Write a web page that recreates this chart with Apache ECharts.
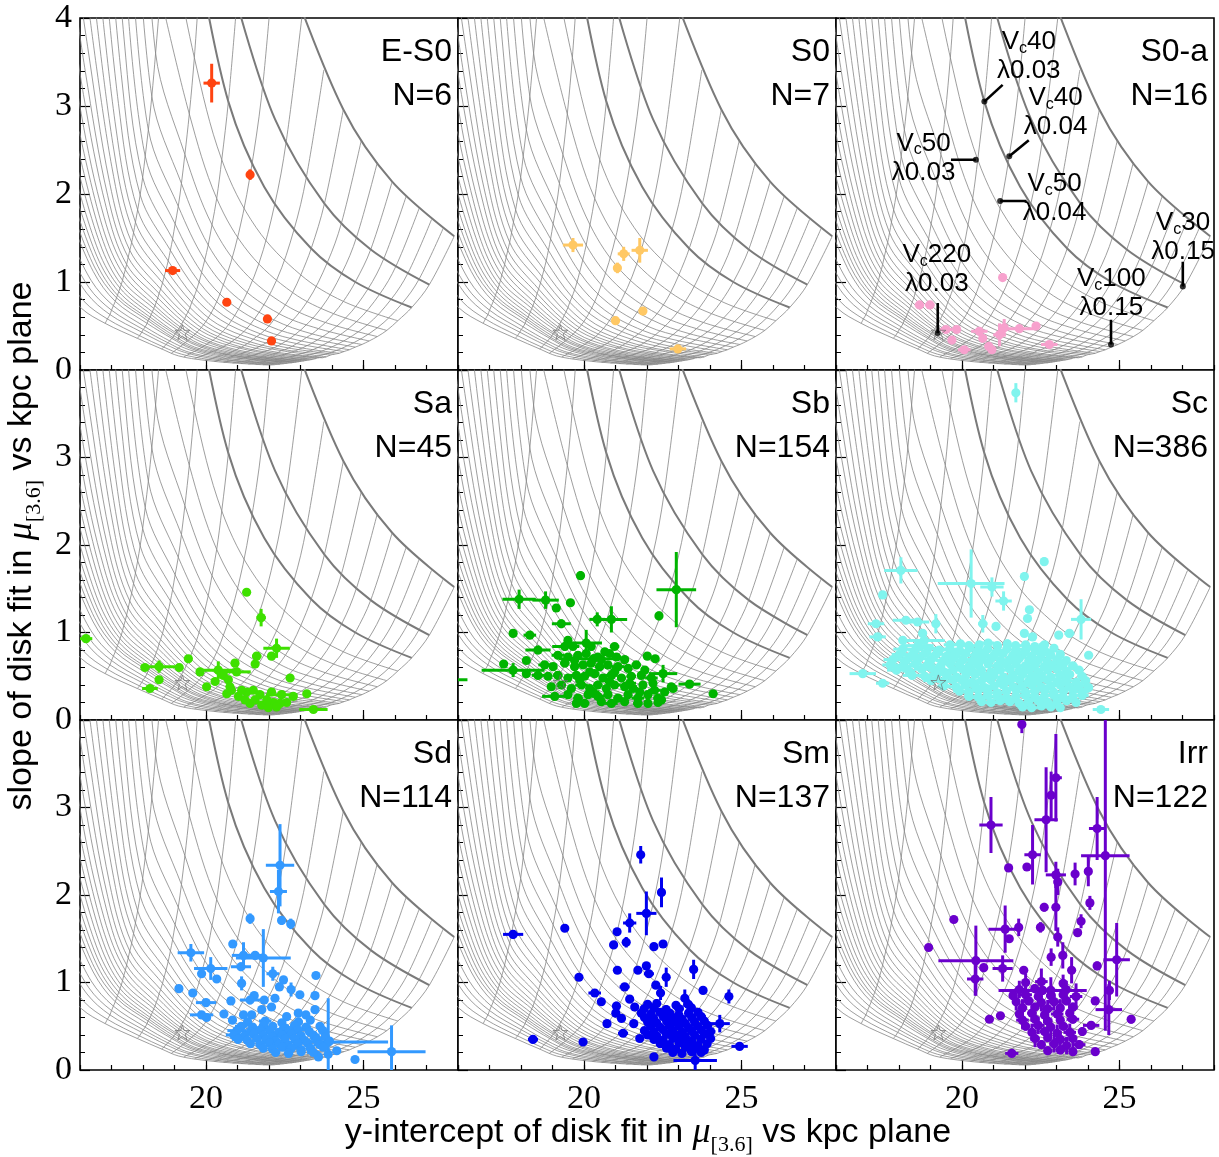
<!DOCTYPE html>
<html><head><meta charset="utf-8">
<script src="https://cdn.jsdelivr.net/npm/echarts@6/dist/echarts.min.js"></script>
<style>html,body{margin:0;padding:0;background:#fff}#c{width:1219px;height:1157px}</style>
</head><body><div id="c"></div>
<script>
// ---------- model grid ----------
// rows: circular velocity Vc ; columns: spin lambda nodes
const VC_LIST = [20,30,40,50,60,70,80,90,100,110,120,130,140,150,160,170,180,190,200,210,220,230,240,250,260,270,280,300,320,340,370,400];
const LAMBDA_NODES = [0.00125,0.0025,0.005,0.01,0.02,0.03,0.045,0.07,0.10,0.15];
const VC_NODES = [
 [null,null,null,null,null,null,[22.67,4.45],[24.36,2.96],[25.91,2.14],[27.88,1.52]],
 [null,null,null,null,null,[20.98,4.18],[22.19,2.85],[23.76,1.89],[25.23,1.37],[27.09,0.97]],
 [null,null,null,null,[19.82,4.54],[20.71,3.05],[21.85,2.08],[23.34,1.38],[24.74,1.00],[26.53,0.71]],
 [null,null,null,[18.71,5.22],[19.63,3.55],[20.50,2.39],[21.59,1.62],[23.01,1.08],[24.36,0.78],[26.09,0.56]],
 [null,null,null,[18.55,4.27],[19.47,2.91],[20.34,1.95],[21.37,1.33],[22.75,0.88],[24.05,0.64],[25.74,0.45]],
 [null,null,[17.87,6.76],[18.40,3.60],[19.33,2.45],[20.19,1.65],[21.19,1.12],[22.52,0.74],[23.79,0.54],[25.44,0.38]],
 [null,null,[17.73,5.69],[18.28,3.11],[19.22,2.12],[20.07,1.42],[21.03,0.97],[22.32,0.64],[23.57,0.47],[25.18,0.33]],
 [null,null,[17.60,4.88],[18.17,2.73],[19.12,1.86],[19.96,1.25],[20.89,0.85],[22.15,0.57],[23.37,0.41],[24.95,0.29]],
 [null,null,[17.49,4.26],[18.07,2.43],[19.02,1.66],[19.86,1.11],[20.77,0.76],[22.00,0.50],[23.19,0.37],[24.74,0.26]],
 [null,[16.77,6.92],[17.40,3.76],[17.99,2.19],[18.94,1.49],[19.78,1.00],[20.66,0.68],[21.86,0.45],[23.03,0.33],[24.55,0.23]],
 [null,[16.66,6.10],[17.31,3.36],[17.91,1.99],[18.87,1.36],[19.70,0.91],[20.55,0.62],[21.73,0.41],[22.88,0.30],[24.38,0.21]],
 [null,[16.57,5.43],[17.22,3.03],[17.83,1.82],[18.80,1.24],[19.62,0.83],[20.46,0.57],[21.61,0.38],[22.74,0.27],[24.23,0.19]],
 [null,[16.48,4.88],[17.14,2.75],[17.76,1.68],[18.73,1.14],[19.55,0.77],[20.37,0.52],[21.50,0.35],[22.62,0.25],[24.08,0.18]],
 [null,[16.39,4.42],[17.07,2.51],[17.70,1.56],[18.67,1.06],[19.49,0.71],[20.29,0.48],[21.40,0.32],[22.50,0.23],[23.95,0.17]],
 [null,[16.31,4.02],[17.01,2.31],[17.64,1.45],[18.62,0.99],[19.43,0.66],[20.21,0.45],[21.31,0.30],[22.39,0.22],[23.82,0.15]],
 [[15.64,5.20],[16.24,3.68],[16.94,2.13],[17.58,1.36],[18.56,0.92],[19.37,0.62],[20.14,0.42],[21.22,0.28],[22.29,0.20],[23.70,0.14]],
 [[15.57,4.90],[16.17,3.39],[16.88,1.98],[17.53,1.28],[18.51,0.87],[19.32,0.58],[20.07,0.40],[21.13,0.26],[22.19,0.19],[23.59,0.14]],
 [[15.51,4.60],[16.11,3.13],[16.83,1.85],[17.48,1.20],[18.47,0.82],[19.27,0.55],[20.01,0.37],[21.05,0.25],[22.10,0.18],[23.49,0.13]],
 [[15.44,4.40],[16.04,2.91],[16.77,1.73],[17.44,1.14],[18.42,0.77],[19.22,0.52],[19.95,0.35],[20.98,0.23],[22.01,0.17],[23.38,0.12]],
 [null,[15.98,2.71],[16.72,1.62],[17.39,1.08],[18.38,0.73],[19.18,0.49],[19.89,0.34],[20.91,0.22],[21.93,0.16],[23.29,0.115]],
 [null,[15.93,2.53],[16.67,1.53],[17.35,1.02],[18.34,0.70],[19.14,0.47],[19.84,0.32],[20.84,0.21],[21.85,0.15],[23.20,0.11]],
 [null,[15.87,2.37],[16.63,1.44],[17.31,0.97],[18.30,0.66],[19.10,0.45],[19.78,0.30],[20.77,0.20],[21.78,0.146],[23.11,0.104]],
 [null,[15.82,2.23],[16.58,1.36],[17.27,0.93],[18.26,0.63],[19.06,0.42],[19.73,0.29],[20.71,0.19],[21.71,0.14],[23.03,0.10]],
 [null,[15.77,2.10],[16.54,1.29],[17.23,0.89],[18.23,0.60],[19.02,0.41],[19.69,0.28],[20.65,0.18],[21.64,0.133],[22.95,0.095]],
 [null,[15.72,1.99],[16.50,1.23],[17.19,0.85],[18.19,0.58],[18.98,0.39],[19.64,0.26],[20.59,0.18],[21.57,0.13],[22.87,0.09]],
 [null,[15.68,1.88],[16.46,1.17],[17.16,0.82],[18.16,0.56],[18.95,0.37],[19.59,0.25],[20.54,0.17],[21.51,0.122],[22.80,0.087]],
 [null,[15.63,1.79],[16.42,1.12],[17.12,0.78],[18.13,0.53],[18.91,0.36],[19.55,0.24],[20.48,0.16],[21.44,0.12],[22.73,0.083]],
 [null,[15.55,1.61],[16.35,1.02],[17.06,0.73],[18.07,0.49],[18.85,0.33],[19.47,0.23],[20.38,0.15],[21.33,0.11],[22.59,0.077]],
 [null,[15.47,1.47],[16.28,0.94],[17.00,0.68],[18.01,0.46],[18.79,0.31],[19.39,0.21],[20.29,0.14],[21.22,0.10],[22.47,0.072]],
 [null,[15.40,1.35],[16.22,0.87],[16.95,0.63],[17.96,0.43],[18.73,0.29],[19.32,0.20],[20.20,0.13],[21.12,0.095],[22.35,0.067]],
 [null,[15.30,1.19],[16.13,0.78],[16.87,0.58],[17.89,0.39],[18.66,0.26],[19.22,0.18],[20.08,0.12],[20.97,0.087],[22.18,0.061]],
 [null,[15.20,1.06],[16.05,0.70],[16.80,0.53],[17.82,0.36],[18.59,0.24],[19.13,0.16],[19.96,0.11],[20.84,0.08],[22.03,0.056]]
];
const LAMBDA_LINE_COLS = [3,4,5,7,8,9];   // lambda = 0.01,0.02,0.03,0.07,0.10,0.15
const LAMBDA_EXTRA = [
 [[22.28,5.21],[21.83,3.33],[21.50,2.43],[21.04,1.56],[20.47,0.89],[19.87,0.49],[18.90,0.19]],
 [[23.05,4.03],[22.54,2.58],[22.18,1.88],[21.67,1.20],[21.03,0.69],[20.37,0.38],[19.30,0.15]],
 [[23.74,3.41],[23.18,2.18],[22.79,1.59],[22.24,1.02],[21.54,0.58],[20.81,0.32],[19.64,0.13]],
 [[24.93,2.61],[24.30,1.67],[23.85,1.22],[23.22,0.78],[22.43,0.45],[21.60,0.25],[20.27,0.097]],
 [[25.44,2.36],[24.78,1.51],[24.31,1.10],[23.65,0.70],[22.82,0.40],[21.95,0.22],[20.56,0.087]],
 [[26.36,1.98],[25.65,1.27],[25.14,0.92],[24.43,0.59],[23.53,0.34],[22.60,0.19],[21.10,0.073]],
 [[26.77,1.84],[26.03,1.18],[25.51,0.86],[24.78,0.55],[23.85,0.31],[22.89,0.17],[21.34,0.068]],
 [[27.16,1.71],[26.41,1.10],[25.87,0.80],[25.11,0.51],[24.16,0.29],[23.17,0.16],[21.58,0.064]],
 [[27.53,1.61],[26.76,1.03],[26.21,0.75],[25.44,0.48],[24.46,0.27],[23.45,0.15],[21.81,0.060]]
];
const THICK_VC = [20,30,40];
const STAR_POS = [19.25,0.43];

// ---------- annotations (S0-a panel) ----------
const ANNOT_VC  = ['40','40','50','50','30','100','220'];
const ANNOT_LAM = ['0.03','0.04','0.03','0.04','0.15','0.15','0.03'];
const ANNOT_DOT = [[20.71,3.05],[21.50,2.43],[20.44,2.39],[21.21,1.92],[27.01,0.95],[24.73,0.29],[19.23,0.42]];
const ANNOT_END = [[21.29,3.24],[22.12,2.61],[19.65,2.39],[22.05,1.92],[27.01,1.23],[24.73,0.57],[19.23,0.76]];
const ANNOT_TXT = [[22.12,3.56],[22.97,2.93],[18.78,2.41],[22.94,1.95],[27.02,1.51],[24.74,0.87],[19.20,1.14]];

// ---------- panels ----------
const PANEL_NAMES = ['E-S0','S0','S0-a','Sa','Sb','Sc','Sd','Sm','Irr'];
const PANEL_N = [6,7,16,45,154,386,114,137,122];
const PANEL_COLORS = ['#ff4411','#ffc864','#f7a1cd','#3ee000','#00b400','#80f4ee','#3399ff','#0000ee','#6a00cc'];

// each point: [y-intercept, slope, x error, y error]
const DATA_ES0 = [[20.18,3.26,0.26,0.22],[21.40,2.22,0.05,0.06],[18.94,1.13,0.24,0.03],[20.66,0.77,0.03,0.03],[21.95,0.58,0.03,0.03],[22.08,0.33,0.03,0.03]];
const DATA_S0 = [[19.65,1.42,0.32,0.08],[21.26,1.32,0.19,0.08],[21.77,1.36,0.26,0.14],[21.06,1.16,0.12,0.06],[21.00,0.56,0.03,0.03],[21.87,0.67,0.03,0.03],[22.98,0.24,0.26,0.03]];
const DATA_S0A = [[21.29,1.05,0.03,0.03],[18.65,0.74,0.15,0.03],[18.98,0.74,0.15,0.03],[19.49,0.46,0.2,0.03],[19.83,0.46,0.1,0.03],[19.68,0.34,0.05,0.03],[20.07,0.23,0.2,0.03],[20.55,0.44,0.26,0.03],[20.66,0.36,0.05,0.03],[20.85,0.27,0.05,0.05],[21.19,0.40,0.2,0.13],[21.34,0.48,0.05,0.1],[21.82,0.47,0.55,0.03],[22.35,0.50,0.05,0.03],[22.77,0.29,0.26,0.03],[20.95,0.23,0.1,0.03]];
const DATA_SA = [[21.29,1.46,0.03,0.03],[21.75,1.17,0.15,0.1],[22.24,0.82,0.42,0.11],[22.08,0.73,0.05,0.03],[21.61,0.73,0.15,0.03],[21.56,0.64,0.05,0.03],[20.92,0.65,0.05,0.03],[22.67,0.48,0.05,0.03],[23.20,0.30,0.05,0.03],[23.41,0.12,0.45,0.03],[16.19,0.93,0.2,0.03],[19.44,0.70,0.05,0.03],[18.51,0.61,0.58,0.07],[18.06,0.60,0.05,0.03],[19.15,0.60,0.05,0.03],[18.51,0.46,0.05,0.03],[18.22,0.36,0.25,0.03],[20.02,0.38,0.05,0.03],[19.81,0.55,0.05,0.03],[20.39,0.57,0.5,0.1],[20.55,0.51,0.05,0.03],[20.71,0.46,0.05,0.03],[20.97,0.55,0.45,0.03],[20.66,0.30,0.05,0.03],[21.03,0.27,0.05,0.03],[21.29,0.32,0.1,0.03],[21.50,0.34,0.05,0.03],[21.71,0.29,0.1,0.03],[21.40,0.19,0.05,0.03],[21.77,0.17,0.1,0.03],[22.08,0.32,0.05,0.03],[22.14,0.20,0.05,0.03],[22.40,0.29,0.5,0.03],[22.56,0.20,0.1,0.03],[21.93,0.23,0.05,0.03],[22.35,0.19,0.05,0.03],[21.24,0.23,0.05,0.03],[20.81,0.34,0.05,0.03],[20.29,0.44,0.05,0.03],[21.56,0.23,0.05,0.03],[22.77,0.27,0.05,0.03],[22.24,0.15,0.05,0.03],[20.76,0.38,0.05,0.03],[21.98,0.14,0.05,0.03],[21.13,0.34,0.05,0.03]];
const DATA_SB = [[22.93,1.49,0.63,0.43],[19.89,1.65,0.03,0.05],[22.38,1.19,0.03,0.05],[17.94,1.38,0.53,0.11],[18.78,1.37,0.42,0.1],[19.12,1.28,0.05,0.03],[19.57,1.34,0.03,0.03],[19.28,1.10,0.3,0.05],[20.42,1.15,0.25,0.08],[20.87,1.15,0.5,0.15],[17.75,0.99,0.03,0.03],[18.28,0.97,0.2,0.03],[18.54,0.80,0.4,0.05],[20.07,0.88,0.5,0.15],[19.39,0.84,0.4,0.05],[17.75,0.57,1.0,0.08],[17.45,0.64,0.05,0.03],[18.17,0.68,0.05,0.03],[22.51,0.53,0.45,0.1],[23.35,0.41,0.35,0.03],[24.10,0.30,0.05,0.03],[22.01,0.73,0.05,0.03],[22.26,0.70,0.05,0.03],[22.77,0.38,0.05,0.03],[15.85,0.46,0.45,0.03],[20.30,0.70,1.1,0.05],[19.07,0.27,0.4,0.03],
 [19.49,0.91,0.1,0.03],[19.65,0.84,0.2,0.03],[20.23,0.84,0.1,0.05],[20.97,0.84,0.15,0.03],[20.66,0.78,0.1,0.03],[19.17,0.74,0.2,0.03],[19.49,0.72,0.1,0.03],[19.81,0.74,0.15,0.04],[20.07,0.76,0.1,0.03],[20.44,0.72,0.2,0.03],[20.81,0.76,0.1,0.03],[21.03,0.72,0.15,0.03],[21.29,0.69,0.1,0.03],[19.70,0.68,0.1,0.03],
 [18.75,0.63,0.2,0.03],[19.02,0.61,0.1,0.03],[19.39,0.65,0.15,0.03],[19.70,0.61,0.1,0.04],[19.97,0.63,0.2,0.03],[20.23,0.65,0.1,0.03],[20.50,0.61,0.15,0.03],[20.76,0.63,0.1,0.03],[21.08,0.61,0.2,0.04],[21.40,0.59,0.1,0.03],[21.66,0.63,0.15,0.03],[21.93,0.57,0.1,0.03],
 [18.54,0.51,0.2,0.03],[18.86,0.50,0.1,0.03],[19.17,0.51,0.15,0.04],[19.49,0.48,0.1,0.03],[19.76,0.51,0.2,0.03],[20.02,0.50,0.1,0.03],[20.34,0.53,0.15,0.03],[20.60,0.48,0.1,0.04],[20.87,0.51,0.2,0.03],[21.19,0.48,0.1,0.03],[21.50,0.50,0.15,0.03],[21.82,0.51,0.1,0.03],[22.14,0.48,0.2,0.03],[18.17,0.53,0.1,0.03],
 [18.96,0.38,0.1,0.03],[19.28,0.40,0.15,0.03],[19.60,0.36,0.1,0.04],[19.92,0.40,0.2,0.03],[20.18,0.36,0.1,0.03],[20.44,0.40,0.15,0.03],[20.71,0.36,0.1,0.03],[20.97,0.40,0.2,0.04],[21.29,0.38,0.1,0.03],[21.56,0.36,0.15,0.03],[21.87,0.40,0.1,0.03],[22.24,0.34,0.2,0.03],[22.56,0.32,0.1,0.03],[22.83,0.36,0.1,0.03],
 [19.49,0.29,0.1,0.03],[19.81,0.25,0.15,0.03],[20.13,0.29,0.1,0.03],[20.44,0.27,0.2,0.04],[20.76,0.29,0.1,0.03],[21.08,0.25,0.15,0.03],[21.40,0.29,0.1,0.03],[21.71,0.25,0.2,0.03],[22.03,0.29,0.1,0.04],[22.35,0.25,0.15,0.03],
 [19.76,0.19,0.1,0.03],[20.02,0.19,0.15,0.03],[20.55,0.21,0.1,0.03],[20.87,0.19,0.2,0.03],[21.29,0.21,0.1,0.03],[21.71,0.19,0.15,0.03],[22.03,0.19,0.1,0.03],[22.35,0.20,0.1,0.03],
 [20.55,0.69,0.1,0.03],[20.97,0.55,0.15,0.03],[20.18,0.55,0.1,0.03],[21.45,0.42,0.2,0.03],[21.77,0.32,0.1,0.03],[20.81,0.44,0.15,0.04],[19.86,0.46,0.1,0.03],[20.29,0.32,0.2,0.03],[22.19,0.42,0.1,0.03],[22.46,0.23,0.1,0.03]];
const DATA_SC = [[21.71,3.74,0.03,0.11],[18.06,1.71,0.53,0.15],[17.48,1.43,0.03,0.03],[20.29,1.56,1.06,0.39],[20.95,1.52,0.37,0.11],[21.32,1.36,0.26,0.11],[21.98,1.64,0.03,0.05],[22.61,1.81,0.03,0.05],[22.14,1.26,0.03,0.03],[22.08,1.16,0.03,0.03],[23.78,1.15,0.32,0.23],[23.07,0.97,0.03,0.03],[23.41,0.99,0.16,0.03],[24.02,0.74,0.03,0.03],[17.27,1.10,0.26,0.03],[17.32,0.95,0.26,0.03],[18.22,1.14,0.42,0.03],[18.59,1.12,0.37,0.03],[16.85,0.53,0.42,0.03],[17.48,0.42,0.21,0.03],[24.41,0.12,0.26,0.03],[19.17,1.10,0.03,0.11],[20.66,1.10,0.15,0.1],[21.08,1.07,0.1,0.03],[21.98,0.99,0.05,0.03],[22.24,0.95,0.05,0.03],[22.56,0.84,0.05,0.03],[22.77,0.76,0.05,0.03],[18.75,0.99,0.1,0.03],[18.12,0.91,0.1,0.03],[18.80,0.91,0.65,0.03],[18.60,0.85,0.5,0.03],
 [19.62,0.86,0.2,0.03],[19.95,0.87,0.15,0.03],[20.22,0.85,0.3,0.04],[20.55,0.86,0.1,0.03],[20.83,0.88,0.2,0.03],[21.12,0.85,0.15,0.03],[21.44,0.87,0.1,0.05],[21.70,0.85,0.2,0.03],[22.02,0.86,0.1,0.03],[22.31,0.84,0.15,0.04],[22.62,0.86,0.1,0.03],
 [18.12,0.81,0.3,0.03],[18.52,0.80,0.25,0.03],[18.93,0.82,0.3,0.03],[19.28,0.80,0.2,0.03],[19.61,0.81,0.25,0.04],[19.93,0.79,0.2,0.03],[20.24,0.82,0.15,0.03],[20.52,0.80,0.3,0.03],[20.81,0.81,0.15,0.04],[21.13,0.79,0.2,0.03],[21.42,0.81,0.1,0.03],[21.71,0.80,0.15,0.03],[22.04,0.81,0.2,0.04],[22.33,0.79,0.1,0.03],[22.61,0.80,0.15,0.03],[22.92,0.82,0.1,0.03],
 [18.02,0.75,0.25,0.03],[18.41,0.74,0.3,0.03],[18.83,0.76,0.2,0.03],[19.18,0.75,0.3,0.04],[19.52,0.73,0.15,0.03],[19.81,0.75,0.2,0.03],[20.12,0.76,0.1,0.03],[20.43,0.74,0.25,0.04],[20.71,0.75,0.15,0.03],[21.02,0.74,0.2,0.03],[21.31,0.76,0.1,0.03],[21.62,0.74,0.15,0.04],[21.93,0.75,0.2,0.03],[22.21,0.73,0.1,0.03],[22.53,0.75,0.15,0.03],[22.82,0.74,0.1,0.04],[23.12,0.75,0.1,0.03],
 [17.81,0.69,0.3,0.03],[18.22,0.68,0.2,0.03],[18.63,0.70,0.3,0.04],[19.02,0.69,0.2,0.03],[19.41,0.68,0.25,0.03],[19.72,0.70,0.15,0.03],[20.03,0.69,0.2,0.04],[20.31,0.67,0.1,0.03],[20.62,0.69,0.2,0.03],[20.93,0.70,0.15,0.03],[21.22,0.68,0.1,0.04],[21.52,0.69,0.2,0.03],[21.81,0.70,0.15,0.03],[22.12,0.68,0.1,0.03],[22.43,0.69,0.2,0.04],[22.71,0.67,0.1,0.03],[23.02,0.69,0.15,0.03],[23.31,0.68,0.1,0.03],
 [17.72,0.63,0.25,0.03],[18.13,0.62,0.3,0.03],[18.52,0.64,0.2,0.04],[18.91,0.63,0.25,0.03],[19.32,0.62,0.15,0.03],[19.63,0.64,0.2,0.03],[19.92,0.63,0.1,0.04],[20.21,0.61,0.2,0.03],[20.52,0.63,0.15,0.03],[20.83,0.64,0.1,0.03],[21.12,0.62,0.2,0.04],[21.43,0.63,0.15,0.03],[21.72,0.64,0.1,0.03],[22.01,0.62,0.2,0.03],[22.32,0.63,0.15,0.04],[22.61,0.61,0.1,0.03],[22.92,0.63,0.2,0.03],[23.22,0.64,0.1,0.03],[23.52,0.62,0.15,0.03],
 [17.92,0.57,0.3,0.03],[18.31,0.56,0.2,0.03],[18.72,0.58,0.25,0.03],[19.12,0.57,0.2,0.04],[19.42,0.55,0.15,0.03],[19.71,0.57,0.2,0.03],[20.02,0.58,0.1,0.03],[20.32,0.56,0.2,0.04],[20.61,0.57,0.15,0.03],[20.92,0.55,0.1,0.03],[21.21,0.57,0.2,0.03],[21.52,0.58,0.15,0.04],[21.81,0.56,0.1,0.03],[22.12,0.57,0.2,0.03],[22.42,0.55,0.15,0.03],[22.72,0.57,0.1,0.04],[23.02,0.58,0.2,0.03],[23.32,0.56,0.1,0.03],[23.71,0.57,0.15,0.03],
 [18.42,0.51,0.3,0.03],[18.82,0.50,0.2,0.03],[19.21,0.52,0.25,0.04],[19.52,0.51,0.15,0.03],[19.83,0.49,0.2,0.03],[20.12,0.51,0.1,0.03],[20.41,0.52,0.2,0.04],[20.72,0.50,0.15,0.03],[21.01,0.51,0.1,0.03],[21.32,0.49,0.2,0.03],[21.61,0.51,0.15,0.04],[21.92,0.52,0.1,0.03],[22.22,0.50,0.2,0.03],[22.51,0.51,0.15,0.03],[22.82,0.49,0.1,0.04],[23.12,0.51,0.2,0.03],[23.42,0.52,0.1,0.03],[23.81,0.50,0.15,0.03],
 [19.02,0.45,0.25,0.03],[19.41,0.44,0.2,0.03],[19.72,0.46,0.15,0.04],[20.02,0.45,0.2,0.03],[20.31,0.43,0.1,0.03],[20.62,0.45,0.2,0.03],[20.91,0.46,0.15,0.04],[21.22,0.44,0.1,0.03],[21.51,0.45,0.2,0.03],[21.82,0.46,0.15,0.03],[22.11,0.44,0.1,0.04],[22.42,0.45,0.2,0.03],[22.71,0.46,0.15,0.03],[23.02,0.44,0.1,0.03],[23.31,0.45,0.2,0.04],[23.62,0.43,0.1,0.03],[23.92,0.45,0.15,0.03],
 [19.42,0.39,0.2,0.03],[19.81,0.38,0.25,0.03],[20.12,0.40,0.15,0.04],[20.41,0.39,0.2,0.03],[20.72,0.37,0.1,0.03],[21.02,0.39,0.2,0.03],[21.31,0.40,0.15,0.04],[21.62,0.38,0.1,0.03],[21.91,0.39,0.2,0.03],[22.22,0.40,0.15,0.03],[22.51,0.38,0.1,0.04],[22.82,0.39,0.2,0.03],[23.12,0.40,0.15,0.03],[23.41,0.38,0.1,0.03],[23.72,0.39,0.2,0.04],[24.02,0.37,0.1,0.03],
 [19.92,0.33,0.2,0.03],[20.21,0.32,0.15,0.03],[20.52,0.34,0.2,0.04],[20.82,0.33,0.1,0.03],[21.12,0.31,0.2,0.03],[21.41,0.33,0.15,0.03],[21.72,0.34,0.1,0.04],[22.02,0.32,0.2,0.03],[22.31,0.33,0.15,0.03],[22.62,0.34,0.1,0.03],[22.91,0.32,0.2,0.04],[23.22,0.33,0.15,0.03],[23.52,0.34,0.1,0.03],[23.82,0.32,0.2,0.03],
 [20.22,0.27,0.15,0.03],[20.52,0.26,0.2,0.03],[20.81,0.28,0.1,0.04],[21.12,0.27,0.2,0.03],[21.42,0.25,0.15,0.03],[21.71,0.27,0.1,0.03],[22.02,0.28,0.2,0.04],[22.32,0.26,0.15,0.03],[22.61,0.27,0.1,0.03],[22.92,0.28,0.2,0.03],[23.21,0.26,0.15,0.04],[23.52,0.27,0.1,0.03],[23.82,0.28,0.2,0.03],
 [20.62,0.21,0.15,0.03],[20.92,0.20,0.2,0.03],[21.21,0.22,0.1,0.03],[21.52,0.21,0.2,0.04],[21.82,0.19,0.15,0.03],[22.11,0.21,0.1,0.03],[22.42,0.22,0.2,0.03],[22.72,0.20,0.15,0.04],[23.01,0.21,0.1,0.03],[23.32,0.22,0.2,0.03],[23.62,0.20,0.1,0.03],
 [21.92,0.15,0.15,0.03],[22.21,0.14,0.2,0.03],[22.52,0.16,0.1,0.03],[22.82,0.15,0.2,0.03],[23.12,0.14,0.1,0.03]];
const DATA_SD = [[22.35,2.34,0.45,0.47],[22.30,2.04,0.27,0.25],[22.40,1.71,0.05,0.05],[22.69,1.67,0.05,0.06],[21.40,1.73,0.05,0.06],[20.85,1.44,0.03,0.03],[19.52,1.34,0.42,0.1],[21.19,1.31,0.37,0.15],[21.56,1.31,0.26,0.05],[21.82,1.28,0.87,0.33],[20.15,1.16,0.53,0.13],[19.86,1.10,0.03,0.03],[20.34,1.04,0.1,0.03],[21.11,1.18,0.32,0.05],[21.13,0.99,0.05,0.08],[22.12,1.10,0.2,0.08],[22.46,1.03,0.05,0.03],[22.33,0.95,0.05,0.03],[22.70,0.92,0.05,0.08],[22.98,0.86,0.03,0.03],[23.49,1.08,0.03,0.03],[23.46,0.85,0.03,0.03],[19.14,0.93,0.03,0.03],[19.58,0.88,0.03,0.03],[20.00,0.77,0.32,0.03],[20.79,0.79,0.03,0.03],[21.53,0.85,0.05,0.03],[21.40,0.80,0.32,0.05],[21.85,0.80,0.03,0.03],[22.19,0.82,0.03,0.03],[19.86,0.63,0.37,0.03],[20.02,0.60,0.05,0.03],[20.57,0.64,0.03,0.03],[20.84,0.57,0.03,0.03],[21.19,0.63,0.1,0.03],[21.45,0.63,0.03,0.03],[21.77,0.69,0.03,0.03],[22.08,0.72,0.03,0.03],[22.56,0.61,0.03,0.03],[22.93,0.65,0.03,0.03],[23.17,0.63,0.03,0.03],[23.46,0.69,0.03,0.03],[23.88,0.32,1.9,0.5],[25.89,0.21,1.08,0.3],[24.73,0.12,0.03,0.03],[24.15,0.22,0.1,0.03],[23.57,0.15,0.05,0.03],
 [21.32,0.55,0.1,0.03],[21.88,0.56,0.2,0.03],[22.41,0.54,0.1,0.04],[22.93,0.55,0.15,0.03],[23.31,0.57,0.1,0.03],
 [21.12,0.50,0.2,0.03],[21.48,0.49,0.1,0.03],[21.83,0.51,0.15,0.04],[22.12,0.50,0.1,0.03],[22.52,0.48,0.2,0.03],[22.81,0.51,0.1,0.03],[23.18,0.49,0.15,0.04],[23.62,0.50,0.1,0.03],
 [20.98,0.45,0.3,0.03],[21.41,0.44,0.1,0.03],[21.72,0.46,0.2,0.04],[22.03,0.45,0.1,0.03],[22.31,0.43,0.15,0.03],[22.62,0.45,0.1,0.03],[22.92,0.46,0.2,0.04],[23.28,0.44,0.1,0.03],[23.71,0.45,0.15,0.03],
 [20.88,0.40,0.25,0.03],[21.22,0.39,0.1,0.03],[21.51,0.41,0.15,0.04],[21.82,0.40,0.1,0.03],[22.11,0.38,0.2,0.03],[22.42,0.40,0.1,0.03],[22.71,0.41,0.15,0.04],[23.02,0.39,0.1,0.03],[23.41,0.40,0.2,0.03],[23.79,0.38,0.1,0.03],
 [21.02,0.35,0.2,0.03],[21.31,0.34,0.1,0.03],[21.62,0.36,0.15,0.04],[21.91,0.35,0.1,0.03],[22.22,0.33,0.2,0.03],[22.51,0.35,0.1,0.03],[22.82,0.36,0.15,0.04],[23.12,0.34,0.1,0.03],[23.52,0.35,0.2,0.03],[23.92,0.33,0.1,0.03],
 [21.41,0.30,0.1,0.03],[21.72,0.29,0.15,0.03],[22.02,0.31,0.1,0.04],[22.31,0.30,0.2,0.03],[22.62,0.28,0.1,0.03],[22.91,0.30,0.15,0.03],[23.22,0.31,0.1,0.04],[23.61,0.29,0.2,0.03],
 [21.82,0.25,0.1,0.03],[22.11,0.24,0.15,0.03],[22.42,0.26,0.1,0.04],[22.71,0.25,0.2,0.03],[23.02,0.23,0.1,0.03],[23.31,0.25,0.15,0.03],[23.72,0.26,0.1,0.03],
 [22.21,0.20,0.1,0.03],[22.62,0.19,0.15,0.03],[23.02,0.21,0.1,0.03],[23.41,0.20,0.2,0.03],[23.88,0.18,0.1,0.03]];
const DATA_SM = [[21.80,2.46,0.03,0.1],[22.46,2.03,0.03,0.17],[21.98,1.79,0.32,0.25],[21.45,1.68,0.21,0.11],[17.75,1.55,0.32,0.05],[19.39,1.62,0.03,0.03],[21.05,1.58,0.03,0.03],[20.94,1.43,0.03,0.03],[21.34,1.46,0.05,0.06],[22.22,1.41,0.03,0.03],[22.51,1.44,0.03,0.03],[21.06,1.14,0.03,0.03],[21.71,1.14,0.03,0.03],[21.98,1.19,0.03,0.03],[22.06,1.10,0.16,0.03],[22.61,1.06,0.05,0.11],[23.48,1.15,0.05,0.11],[19.84,1.06,0.03,0.03],[21.29,0.95,0.16,0.03],[22.28,0.97,0.03,0.03],[22.43,0.88,0.03,0.08],[23.78,0.91,0.03,0.03],[24.60,0.84,0.1,0.08],[20.34,0.88,0.2,0.03],[20.55,0.78,0.1,0.03],[21.03,0.73,0.1,0.05],[21.45,0.81,0.1,0.03],[21.61,0.72,0.1,0.03],[21.01,0.65,0.1,0.03],[20.73,0.53,0.05,0.03],[21.19,0.59,0.1,0.03],[21.58,0.53,0.05,0.03],[21.24,0.42,0.16,0.03],[18.38,0.35,0.16,0.03],[19.97,0.32,0.03,0.03],[21.77,0.36,0.03,0.03],[22.22,0.15,0.03,0.03],[24.94,0.27,0.26,0.03],[23.53,0.11,0.69,0.15],[23.20,0.82,0.05,0.1],[24.31,0.53,0.32,0.1],
 [22.02,0.75,0.1,0.03],[22.31,0.76,0.05,0.05],[22.92,0.74,0.1,0.03],[23.31,0.75,0.15,0.06],
 [21.91,0.70,0.1,0.03],[22.22,0.71,0.05,0.03],[22.61,0.69,0.1,0.05],[23.02,0.70,0.15,0.03],[23.41,0.71,0.1,0.03],
 [21.82,0.65,0.1,0.03],[22.12,0.64,0.05,0.04],[22.41,0.66,0.1,0.03],[22.72,0.65,0.15,0.03],[23.01,0.63,0.1,0.05],[23.32,0.65,0.05,0.03],[23.62,0.66,0.1,0.03],
 [21.92,0.60,0.05,0.03],[22.21,0.59,0.1,0.04],[22.52,0.61,0.15,0.03],[22.81,0.60,0.1,0.03],[23.12,0.58,0.05,0.05],[23.42,0.60,0.1,0.03],[23.72,0.61,0.15,0.03],
 [22.02,0.55,0.1,0.03],[22.31,0.54,0.05,0.04],[22.62,0.56,0.1,0.03],[22.91,0.55,0.15,0.03],[23.22,0.53,0.1,0.05],[23.51,0.55,0.05,0.03],[23.82,0.56,0.1,0.03],
 [22.12,0.50,0.05,0.03],[22.41,0.49,0.1,0.04],[22.72,0.51,0.15,0.03],[23.01,0.50,0.1,0.03],[23.32,0.48,0.05,0.05],[23.61,0.50,0.1,0.03],[23.92,0.51,0.15,0.03],
 [21.92,0.45,0.1,0.03],[22.21,0.44,0.05,0.04],[22.52,0.46,0.1,0.03],[22.81,0.45,0.15,0.03],[23.12,0.43,0.1,0.05],[23.41,0.45,0.05,0.03],[23.72,0.46,0.1,0.03],[24.02,0.44,0.15,0.03],
 [22.02,0.40,0.05,0.03],[22.31,0.39,0.1,0.04],[22.62,0.41,0.15,0.03],[22.91,0.40,0.1,0.03],[23.22,0.38,0.05,0.05],[23.51,0.40,0.1,0.03],[23.82,0.41,0.15,0.03],
 [22.22,0.35,0.1,0.03],[22.51,0.34,0.05,0.04],[22.82,0.36,0.1,0.03],[23.11,0.35,0.15,0.03],[23.42,0.33,0.1,0.05],[23.71,0.35,0.05,0.03],[24.02,0.36,0.1,0.03],
 [22.42,0.30,0.1,0.03],[22.71,0.29,0.05,0.04],[23.02,0.31,0.1,0.03],[23.31,0.30,0.15,0.03],[23.62,0.28,0.1,0.05],[23.91,0.30,0.05,0.03],
 [22.62,0.25,0.1,0.03],[22.91,0.24,0.05,0.04],[23.22,0.26,0.1,0.03],[23.51,0.25,0.15,0.03],[23.82,0.23,0.1,0.05],
 [22.82,0.20,0.05,0.03],[23.11,0.19,0.1,0.04],[23.42,0.21,0.15,0.03],[23.72,0.20,0.1,0.03]];
const DATA_IRR = [[21.90,3.95,0.03,0.1],[24.55,2.45,0.77,2.0],[22.98,3.34,0.19,0.5],[22.83,3.14,0.05,0.27],[20.92,2.80,0.37,0.32],[22.67,2.86,0.37,0.6],[24.29,2.76,0.26,0.36],[22.24,2.46,0.26,0.34],[21.48,2.31,0.03,0.03],[22.06,2.32,0.03,0.03],[22.98,2.23,0.32,0.15],[23.59,2.24,0.03,0.13],[24.01,2.27,0.05,0.17],[23.04,2.15,0.05,0.15],[22.61,1.86,0.05,0.05],[22.98,1.86,0.05,0.27],[24.06,1.91,0.05,0.08],[19.74,1.72,0.05,0.03],[21.37,1.61,0.53,0.27],[21.80,1.63,0.05,0.1],[22.49,1.63,0.05,0.06],[23.78,1.70,0.05,0.08],[23.67,1.57,0.05,0.03],[21.50,1.50,0.03,0.03],[23.04,1.52,0.05,0.11],[18.94,1.40,0.05,0.03],[23.20,1.31,0.05,0.15],[22.83,1.29,0.05,0.1],[20.44,1.25,1.19,0.4],[20.69,1.17,0.05,0.03],[21.29,1.16,0.32,0.15],[21.96,1.14,0.1,0.03],[23.48,1.14,0.05,0.15],[24.29,1.19,0.05,0.05],[24.91,1.26,0.42,0.42],[20.42,1.04,0.26,0.19],[22.56,0.91,1.4,0.05],[24.68,0.91,0.05,0.11],[24.23,0.79,0.05,0.03],[24.66,0.69,0.42,0.29],[20.87,0.58,0.05,0.03],[21.22,0.62,0.05,0.03],[25.37,0.58,0.05,0.05],[24.10,0.51,0.26,0.03],[21.58,0.19,0.21,0.03],[24.23,0.21,0.05,0.03],
 [22.02,1.00,0.1,0.1],[22.52,1.01,0.2,0.15],[23.21,0.99,0.1,0.1],
 [21.82,0.92,0.15,0.1],[22.31,0.93,0.1,0.05],[22.82,0.91,0.2,0.15],[23.31,0.92,0.1,0.1],
 [21.62,0.85,0.1,0.05],[22.02,0.86,0.2,0.1],[22.42,0.84,0.1,0.1],[22.82,0.85,0.15,0.05],[23.21,0.86,0.1,0.1],[23.62,0.84,0.2,0.15],
 [21.72,0.78,0.1,0.1],[22.12,0.79,0.15,0.05],[22.52,0.77,0.1,0.1],[22.92,0.78,0.2,0.1],[23.32,0.79,0.1,0.05],
 [21.92,0.71,0.15,0.1],[22.32,0.72,0.1,0.05],[22.72,0.70,0.2,0.1],[23.12,0.71,0.1,0.1],[23.52,0.72,0.15,0.05],
 [21.82,0.64,0.1,0.05],[22.22,0.65,0.15,0.1],[22.62,0.63,0.1,0.1],[23.02,0.64,0.2,0.05],[23.42,0.65,0.1,0.1],
 [21.92,0.57,0.2,0.1],[22.32,0.58,0.1,0.05],[22.72,0.56,0.15,0.1],[23.12,0.57,0.1,0.1],[23.52,0.58,0.2,0.05],
 [22.02,0.50,0.1,0.05],[22.42,0.51,0.2,0.1],[22.82,0.49,0.1,0.1],[23.22,0.50,0.15,0.05],
 [22.22,0.43,0.1,0.1],[22.62,0.44,0.15,0.05],[23.02,0.42,0.1,0.1],[23.42,0.43,0.2,0.1],[23.82,0.44,0.1,0.05],
 [22.32,0.36,0.15,0.1],[22.72,0.37,0.1,0.05],[23.12,0.35,0.2,0.1],[23.52,0.36,0.1,0.1],
 [22.52,0.29,0.1,0.05],[22.92,0.30,0.15,0.1],[23.32,0.28,0.1,0.1],[23.72,0.29,0.2,0.05],
 [22.72,0.22,0.1,0.05],[23.12,0.23,0.15,0.05],[23.52,0.21,0.1,0.05]];
const PANEL_DATA = [DATA_ES0,DATA_S0,DATA_S0A,DATA_SA,DATA_SB,DATA_SC,DATA_SD,DATA_SM,DATA_IRR];

const X_MIN = 16, X_MAX = 28, Y_MIN = 0, Y_MAX = 4;
const X_MAJOR = [20,25];

// ---------- layout ----------
const COL_LEFT = [80,458,836], COL_W = 378;
const ROW_TOP = [18,370,720], ROW_H = [352,350,350];
const SANS = "'Liberation Sans', Arial, sans-serif";
const SERIF = "'Liberation Serif', 'DejaVu Serif', serif";

const chart = echarts.init(document.getElementById('c'), null, {renderer:'canvas'});
const grids=[], xAxes=[], yAxes=[], series=[], graphics=[];

const vcCurves = VC_NODES.map(r => r.filter(p => p));
const lambdaLines = LAMBDA_LINE_COLS.map(j => VC_NODES.map(r => r[j]).filter(p => p)).concat(LAMBDA_EXTRA);
const STAR_PATH = 'path://M50,2 L61,37 L98,37 L68,59 L79,95 L50,73 L21,95 L32,59 L2,37 L39,37 Z';
const GRID_LINE = '#858585';

for (let i = 0; i < 9; i++) {
  const row = Math.floor(i/3), col = i % 3;
  const left = COL_LEFT[col], top = ROW_TOP[row], h = ROW_H[row];
  grids.push({left:left, top:top, width:COL_W, height:h, show:true, borderColor:'#000', borderWidth:1.6, backgroundColor:'#fff', containLabel:false});
  const xi = xAxes.length;
  xAxes.push({type:'value', gridIndex:i, min:X_MIN, max:X_MAX, interval:1, position:'bottom',
    axisLine:{show:false}, axisTick:{show:true, inside:true, length:5, lineStyle:{color:'#000', width:1.2}},
    axisLabel:{show:false}, splitLine:{show:false}});
  xAxes.push({type:'value', gridIndex:i, min:X_MIN, max:X_MAX, position:'bottom',
    axisLine:{show:false}, axisTick:{show:true, inside:true, length:10, customValues:X_MAJOR, lineStyle:{color:'#000', width:1.2}},
    axisLabel:{show: row===2, customValues:X_MAJOR, margin:12, fontFamily:SERIF, fontSize:34, color:'#000'},
    splitLine:{show:false}});
  yAxes.push({type:'value', gridIndex:i, min:Y_MIN, max:Y_MAX, interval:1,
    axisLine:{show:false}, axisTick:{show:true, inside:true, length:10, lineStyle:{color:'#000', width:1.2}},
    minorTick:{show:true, splitNumber:5, length:5, lineStyle:{color:'#000', width:1}},
    axisLabel:{show: col===0, margin:8, fontFamily:SERIF, fontSize:34, color:'#000',
      formatter: v => (row>0 && v===4) ? '' : String(v)},
    splitLine:{show:false}});

  // model grid
  vcCurves.forEach((pts, k) => {
    const thick = THICK_VC.indexOf(VC_LIST[k]) >= 0;
    series.push({type:'line', xAxisIndex:xi, yAxisIndex:i, data:pts, smooth:0.35, symbol:'none', silent:true, clip:true, z:1,
      lineStyle:{color: thick ? '#7a7a7a' : GRID_LINE, width: thick ? 2 : 0.8}});
  });
  lambdaLines.forEach(pts => {
    series.push({type:'line', xAxisIndex:xi, yAxisIndex:i, data:pts, smooth:0.35, symbol:'none', silent:true, clip:true, z:1,
      lineStyle:{color:GRID_LINE, width:0.8}});
  });

  // data with error bars
  const color = PANEL_COLORS[i];
  series.push({type:'custom', xAxisIndex:xi, yAxisIndex:i, data:PANEL_DATA[i], clip:true, z:5, silent:true,
    encode:{x:0, y:1},
    renderItem:(params, api) => {
      const x = api.value(0), y = api.value(1), xe = api.value(2), ye = api.value(3);
      const c = api.coord([x,y]), l = api.coord([x-xe,y]), r = api.coord([x+xe,y]);
      const t = api.coord([x,y+ye]), b = api.coord([x,y-ye]);
      return {type:'group', children:[
        {type:'line', shape:{x1:l[0],y1:l[1],x2:r[0],y2:r[1]}, style:{stroke:color, lineWidth:3}},
        {type:'line', shape:{x1:t[0],y1:t[1],x2:b[0],y2:b[1]}, style:{stroke:color, lineWidth:3}},
        {type:'circle', shape:{cx:c[0], cy:c[1], r:4.6}, style:{fill:color}}
      ]};
    }});

  // reference star
  series.push({type:'scatter', xAxisIndex:xi, yAxisIndex:i, data:[STAR_POS], symbol:STAR_PATH, symbolSize:15, silent:true, z:8,
    itemStyle:{color:'rgba(0,0,0,0)', borderColor:'#6e6e6e', borderWidth:0.9}});

  // panel labels
  graphics.push({type:'text', x:left+COL_W-6, y:top+34, z:100, style:{text:PANEL_NAMES[i], font:'32px '+SANS, fill:'#000', align:'right', verticalAlign:'middle'}});
  graphics.push({type:'text', x:left+COL_W-6, y:top+78, z:100, style:{text:'N=' + PANEL_N[i], font:'32px '+SANS, fill:'#000', align:'right', verticalAlign:'middle'}});
}

// annotations on the S0-a panel (grid 2)
const aX = 4, aY = 2;
ANNOT_DOT.forEach((d, k) => {
  series.push({type:'line', xAxisIndex:aX, yAxisIndex:aY, data:[d, ANNOT_END[k]], symbol:'none', silent:true, z:10,
    lineStyle:{color:'#000', width:2.6}});
});
series.push({type:'scatter', xAxisIndex:aX, yAxisIndex:aY, data:ANNOT_DOT, symbol:'circle', symbolSize:6, silent:true, z:11,
  itemStyle:{color:'#000'}});
series.push({type:'scatter', xAxisIndex:aX, yAxisIndex:aY, silent:true, z:12, symbolSize:2, itemStyle:{color:'rgba(255,255,255,0)'},
  data: ANNOT_TXT.map((p, k) => ({value:p, vc:ANNOT_VC[k], lam:ANNOT_LAM[k]})),
  label:{show:true, position:'inside', align:'center', verticalAlign:'middle', color:'#000', opacity:1,
    formatter: p => '{v|V}{c|c}{v|' + p.data.vc + '}\n{v|λ' + p.data.lam + '}',
    rich:{v:{fontFamily:SANS, fontSize:26, color:'#000', lineHeight:29},
          c:{fontFamily:SANS, fontSize:16, color:'#000', lineHeight:29, verticalAlign:'bottom', padding:[11,0,0,0]}}}});

// axis titles
graphics.push({type:'text', x:648, y:1133, z:100, style:{
  text:'{a|y-intercept of disk fit in }{m|μ}{s|[3.6]}{a| vs kpc plane}', align:'center', verticalAlign:'middle',
  rich:{a:{font:'34px '+SANS, fill:'#000', lineHeight:46},
        m:{font:'italic 36px '+SERIF, fill:'#000', lineHeight:46},
        s:{font:'22px '+SERIF, fill:'#000', lineHeight:22, verticalAlign:'bottom'}}}});
graphics.push({type:'text', x:22, y:546, rotation:Math.PI/2, z:100, style:{
  text:'{a|slope of disk fit in }{m|μ}{s|[3.6]}{a| vs kpc plane}', align:'center', verticalAlign:'middle',
  rich:{a:{font:'34px '+SANS, fill:'#000', lineHeight:46},
        m:{font:'italic 36px '+SERIF, fill:'#000', lineHeight:46},
        s:{font:'22px '+SERIF, fill:'#000', lineHeight:22, verticalAlign:'bottom'}}}});

chart.setOption({animation:false, backgroundColor:'#fff', grid:grids, xAxis:xAxes, yAxis:yAxes, series:series, graphic:graphics});
</script></body></html>
